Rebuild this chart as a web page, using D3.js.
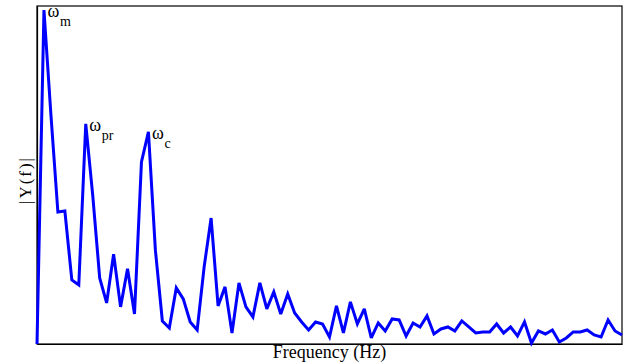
<!DOCTYPE html>
<html>
<head>
<meta charset="utf-8">
<script src="https://cdn.jsdelivr.net/npm/d3@7"></script>
<style>
  html, body { margin: 0; padding: 0; background: #fff; }
  svg { display: block; }
  text { font-family: "Liberation Serif", "Times New Roman", serif; fill: #000; }
</style>
</head>
<body>
<svg id="chart" width="631" height="364"></svg>
<script>
// Normalized spectrum magnitude |Y(f)| per frequency bin
const magnitude = [
  0.000, 1.000, 0.686, 0.395, 0.398, 0.192, 0.177, 0.659, 0.446, 0.198,
  0.123, 0.269, 0.111, 0.225, 0.090, 0.545, 0.635, 0.281, 0.069, 0.048,
  0.168, 0.135, 0.066, 0.042, 0.231, 0.377, 0.114, 0.171, 0.033, 0.183,
  0.111, 0.081, 0.183, 0.105, 0.156, 0.090, 0.150, 0.093, 0.066, 0.042,
  0.066, 0.060, 0.021, 0.114, 0.033, 0.126, 0.060, 0.105, 0.018, 0.063,
  0.039, 0.075, 0.072, 0.024, 0.063, 0.051, 0.084, 0.030, 0.045, 0.051,
  0.039, 0.069, 0.051, 0.033, 0.036, 0.036, 0.060, 0.033, 0.051, 0.024,
  0.066, 0.003, 0.039, 0.030, 0.042, 0.006, 0.018, 0.036, 0.036, 0.042,
  0.027, 0.021, 0.072, 0.039, 0.027
];
const bins = magnitude.map((_, i) => i);

// Peak annotations: bin index, subscript
const peakBins = [1, 7, 16];
const peakSubs = ["m", "pr", "c"];

const xLabel = "Frequency (Hz)";
const yLabel = "|Y(f)|";

const svg = d3.select("#chart");
const mLeft = 37, mRight = 622, mTop = 6, mBottom = 344;

const x = d3.scaleLinear().domain([0, bins.length - 1]).range([mLeft, mRight]);
const y = d3.scaleLinear().domain([0, 1]).range([mBottom, 10]);

// frame
svg.append("rect")
  .attr("x", mLeft).attr("y", mTop)
  .attr("width", mRight - mLeft).attr("height", mBottom - mTop)
  .attr("fill", "none").attr("stroke", "#000").attr("stroke-width", 1.2);

// axes (no ticks)
svg.append("g").attr("transform", `translate(0,${mBottom})`)
  .call(d3.axisBottom(x).tickValues([]).tickSizeOuter(0))
  .call(g => g.select(".domain").attr("stroke-width", 1.2));
svg.append("g").attr("transform", `translate(${mLeft},0)`)
  .call(d3.axisLeft(d3.scaleLinear().domain([0, 1]).range([mBottom, mTop])).tickValues([]).tickSizeOuter(0))
  .call(g => g.select(".domain").attr("stroke-width", 1.2));

// spectrum line
const line = d3.line().x((d, i) => x(bins[i])).y(d => y(d));
svg.append("path")
  .datum(magnitude)
  .attr("d", line)
  .attr("fill", "none")
  .attr("stroke", "#0000ff")
  .attr("stroke-width", 3)
  .attr("stroke-linejoin", "miter")
  .attr("stroke-miterlimit", 3);

// peak labels
peakBins.forEach((b, k) => {
  const px = x(bins[b]), py = y(magnitude[b]);
  svg.append("text")
    .attr("x", px + 3.5).attr("y", py + 7)
    .attr("font-size", 18)
    .text("ω");
  svg.append("text")
    .attr("x", px + 16).attr("y", py + 16)
    .attr("font-size", 14)
    .text(peakSubs[k]);
});

// axis labels
svg.append("text")
  .attr("x", (mLeft + mRight) / 2).attr("y", 358)
  .attr("text-anchor", "middle")
  .attr("font-size", 18)
  .text(xLabel);

svg.append("text")
  .attr("transform", `translate(31,181) rotate(-90)`)
  .attr("text-anchor", "middle")
  .attr("font-size", 17)
  .attr("textLength", 46)
  .attr("lengthAdjust", "spacing")
  .text(yLabel);
</script>
</body>
</html>
